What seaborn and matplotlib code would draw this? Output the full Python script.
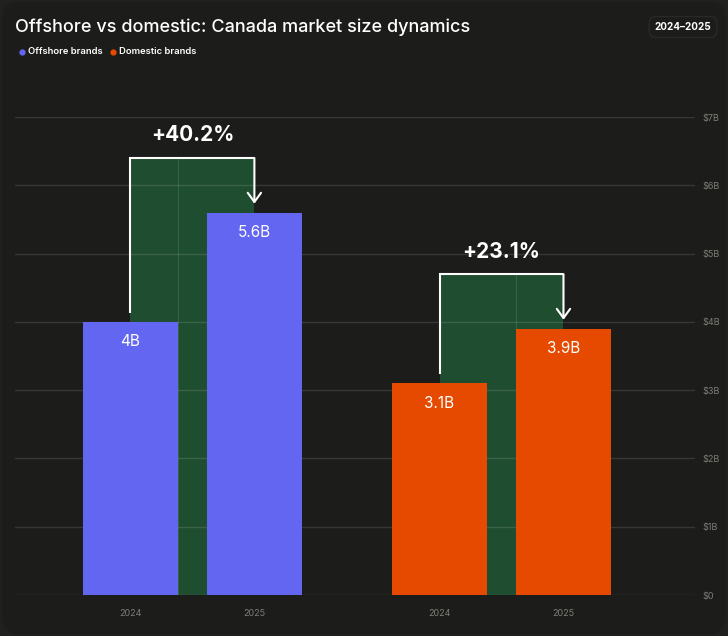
import matplotlib
matplotlib.use("Agg")
import matplotlib.pyplot as plt
from matplotlib.patches import FancyBboxPatch
from matplotlib.lines import Line2D
import seaborn as sns
import pandas as pd

# chart data
groups = ["Offshore brands", "Domestic brands"]
years = ["2024", "2025"]
offshore = [4.0, 5.6]
domestic = [3.1, 3.9]
bar_labels = [["4B", "5.6B"], ["3.1B", "3.9B"]]
growth = ["+40.2%", "+23.1%"]
yticks = [0, 1, 2, 3, 4, 5, 6, 7]
ytick_labels = ["\\$0", "\\$1B", "\\$2B", "\\$3B", "\\$4B", "\\$5B", "\\$6B", "\\$7B"]

colors = ["#6366f1", "#e54a00"]
bg = "#1c1c1a"
green = "#1f4d2f"
grey = "#7d7d78"

df = pd.DataFrame({
    "group": [g for g in groups for _ in years],
    "year": years * 2,
    "value": offshore + domestic,
})

sns.set_theme(style="dark", rc={"axes.facecolor": "none", "figure.facecolor": "#20201e"})
plt.rcParams["font.family"] = ["Inter", "DejaVu Sans"]

fig = plt.figure(figsize=(7.28, 6.36), dpi=100)
card = FancyBboxPatch((0.003, 0.003), 0.994, 0.994, boxstyle="round,pad=0,rounding_size=0.025",
                      transform=fig.transFigure, fc=bg, ec="none", zorder=-10)
fig.patches.append(card)

ax = fig.add_axes([15 / 728, 41 / 636, 680 / 728, 478 / 636])
sns.barplot(data=df, x="group", y="value", hue="year", order=groups, hue_order=years,
            width=0.802, gap=0.234, saturation=1, legend=False, ax=ax)

for cont in ax.containers:
    for j, bar in enumerate(cont):
        bar.set_facecolor(colors[j])
        bar.set_edgecolor("none")
        bar.set_zorder(3)

ax.set_ylim(0, 7)
ax.set_xlim(-0.574, 1.626)

centers, labels = [], []
for j in range(len(groups)):
    lb, rb = ax.containers[0][j], ax.containers[1][j]
    xl = lb.get_x() + lb.get_width() / 2
    xr = rb.get_x() + rb.get_width() / 2
    v0, v1 = lb.get_height(), rb.get_height()
    top = max(v0, v1) + 0.8
    ax.fill_between([xl, xr], 0, top, color=green, lw=0, zorder=0.3)
    # faint seam inside the green block
    seam = lb.get_x() + lb.get_width() if j == 0 else rb.get_x()
    ax.plot([seam, seam], [0, top], color="#3a7a4c", lw=0.8, alpha=0.6, zorder=0.4)
    ax.plot([xl, xl, xr], [v0 + 0.13, top, top], color="white", lw=1.5, zorder=4,
            solid_capstyle="butt", solid_joinstyle="miter")
    ax.annotate("", xy=(xr, v1 + 0.13), xytext=(xr, top),
                arrowprops=dict(arrowstyle="->,head_length=0.55,head_width=0.4",
                                color="white", lw=1.5, shrinkA=0, shrinkB=0), zorder=4)
    ax.text((xl + xr) / 2, top + 0.33, growth[j], color="white", fontsize=15,
            fontweight="bold", ha="center", va="center", zorder=5)
    for k, (bar, v) in enumerate([(lb, v0), (rb, v1)]):
        cx = bar.get_x() + bar.get_width() / 2
        ax.text(cx, v - 0.29, bar_labels[j][k], color="white", fontsize=11,
                ha="center", va="center", zorder=5)
        centers.append(cx)
        labels.append(years[k])

ax.set_xticks(centers)
ax.set_xticklabels(labels)
ax.set_yticks(yticks)
ax.set_yticklabels(ytick_labels)
ax.yaxis.tick_right()
ax.tick_params(axis="y", length=0, pad=5, labelsize=6.5, labelcolor=grey)
ax.tick_params(axis="x", length=0, pad=10, labelsize=6.5, labelcolor=grey)
ax.set_xlabel("")
ax.set_ylabel("")
ax.yaxis.grid(True, color="white", alpha=0.12, lw=1)
ax.xaxis.grid(False)
ax.set_axisbelow(True)
for s in ax.spines.values():
    s.set_visible(False)

# header
fig.text(15 / 728, 1 - 27 / 636, "Offshore vs domestic: Canada market size dynamics",
         color="white", fontsize=13, fontweight="medium", ha="left", va="center")
legend_x = [22, 113]
for g, c, lx in zip(groups, colors, legend_x):
    fig.add_artist(Line2D([lx / 728], [1 - 52 / 636], marker="o", ms=3.5, color=c,
                          lw=0, transform=fig.transFigure))
    fig.text((lx + 6) / 728, 1 - 52 / 636, g, color="white", fontsize=6.8,
             fontweight="semibold", ha="left", va="center")
fig.text(683 / 728, 1 - 27 / 636, "2024–2025", color="white", fontsize=7.2,
         fontweight="bold", ha="center", va="center",
         bbox=dict(boxstyle="round,pad=0.55,rounding_size=0.7", fc=bg, ec="#292927", lw=1))

fig.savefig("out.png", dpi=100, facecolor=fig.get_facecolor())
